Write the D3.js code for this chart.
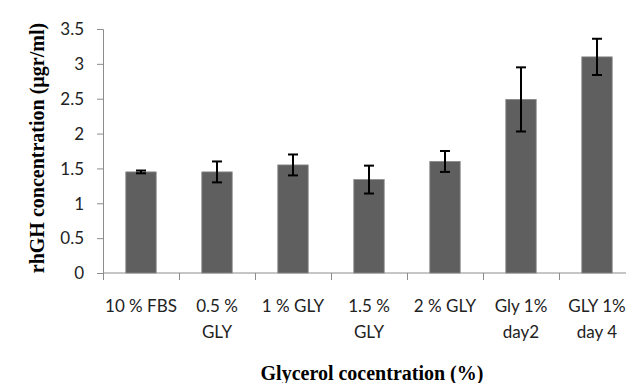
<!DOCTYPE html>
<html>
<head>
<meta charset="utf-8">
<script src="https://cdn.jsdelivr.net/npm/d3@7"></script>
<style>
  html, body { margin: 0; padding: 0; background: #fff; overflow: hidden; }
  svg { display: block; }
</style>
</head>
<body>
<svg id="chart" width="626" height="383"></svg>
<script>
// rhGH concentration by culture condition, mean ± error
const categories = [
  ["10 % FBS"],
  ["0.5 %", "GLY"],
  ["1 % GLY"],
  ["1.5 %", "GLY"],
  ["2 % GLY"],
  ["Gly 1%", "day2"],
  ["GLY 1%", "day 4"]
];
const means  = [1.45, 1.45, 1.55, 1.34, 1.60, 2.49, 3.10];
const errors = [0.02, 0.15, 0.15, 0.20, 0.15, 0.46, 0.26];
const yTicks = [0, 0.5, 1, 1.5, 2, 2.5, 3, 3.5];

const svg = d3.select("#chart");
const plot = { left: 103, right: 635, top: 29, bottom: 273 };

const keys = categories.map(c => c.join(" "));
const x = d3.scaleBand().domain(keys).range([plot.left, plot.right]).padding(0);
const y = d3.scaleLinear().domain([0, 3.5]).range([plot.bottom, plot.top]);

const axisColor = "#8c8c8c";
const tickFont = "Lato, 'Open Sans', sans-serif";

// y axis
const yAxis = svg.append("g")
  .attr("transform", `translate(${plot.left},0)`)
  .call(d3.axisLeft(y).tickValues(yTicks).tickFormat(d => String(d)).tickSize(6).tickPadding(13));
yAxis.select(".domain").attr("stroke", axisColor).attr("stroke-width", 1);
yAxis.selectAll(".tick line").attr("stroke", axisColor);
yAxis.selectAll(".tick text")
  .attr("fill", "#222")
  .style("font-family", tickFont)
  .style("font-size", "17px")
  .attr("dy", "0.34em");

// x axis baseline and boundary ticks
const xAxisG = svg.append("g").attr("transform", `translate(0,${plot.bottom})`);
xAxisG.append("line")
  .attr("x1", plot.left).attr("x2", plot.right)
  .attr("stroke", axisColor).attr("stroke-width", 1);
const bounds = keys.map(k => x(k)).concat([x(keys[keys.length - 1]) + x.bandwidth()]);
xAxisG.selectAll("line.b").data(bounds).enter().append("line")
  .attr("class", "b")
  .attr("x1", d => Math.round(d) + 0.5).attr("x2", d => Math.round(d) + 0.5)
  .attr("y1", 0).attr("y2", 7)
  .attr("stroke", axisColor);

// category labels (one or two lines)
const labels = svg.append("g");
categories.forEach((lines, i) => {
  const cx = x(keys[i]) + x.bandwidth() / 2;
  const t = labels.append("text")
    .attr("x", cx).attr("y", 312)
    .attr("text-anchor", "middle")
    .attr("fill", "#222")
    .style("font-family", tickFont)
    .style("font-size", "17px");
  lines.forEach((ln, j) => {
    t.append("tspan").attr("x", cx).attr("y", 312 + j * 26).text(ln);
  });
});

// bars
const barW = x.bandwidth() * 0.4;
svg.append("g").selectAll("rect").data(means).enter().append("rect")
  .attr("x", (d, i) => x(keys[i]) + (x.bandwidth() - barW) / 2)
  .attr("y", d => y(d))
  .attr("width", barW)
  .attr("height", d => y(0) - y(d))
  .attr("fill", "#5f5f5f")
  .attr("stroke", "#8a8a8a")
  .attr("stroke-width", 0.8);

// error bars
const eb = svg.append("g").attr("stroke", "#000").attr("stroke-width", 2);
means.forEach((m, i) => {
  const cx = x(keys[i]) + x.bandwidth() / 2;
  const y1 = y(m + errors[i]), y2 = y(m - errors[i]);
  eb.append("line").attr("x1", cx).attr("x2", cx).attr("y1", y1).attr("y2", y2);
  eb.append("line").attr("x1", cx - 5).attr("x2", cx + 5).attr("y1", y1).attr("y2", y1);
  eb.append("line").attr("x1", cx - 5).attr("x2", cx + 5).attr("y1", y2).attr("y2", y2);
});

// axis titles
const titleFont = "'Liberation Serif', 'Times New Roman', serif";
svg.append("text")
  .attr("transform", `translate(44,148) rotate(-90)`)
  .attr("text-anchor", "middle")
  .attr("fill", "#000")
  .style("font-family", titleFont)
  .style("font-weight", "bold")
  .style("font-size", "20px")
  .text("rhGH concentration (µgr/ml)");

svg.append("text")
  .attr("x", 372).attr("y", 380)
  .attr("text-anchor", "middle")
  .attr("fill", "#000")
  .style("font-family", titleFont)
  .style("font-weight", "bold")
  .style("font-size", "20px")
  .text("Glycerol cocentration (%)");
</script>
</body>
</html>
